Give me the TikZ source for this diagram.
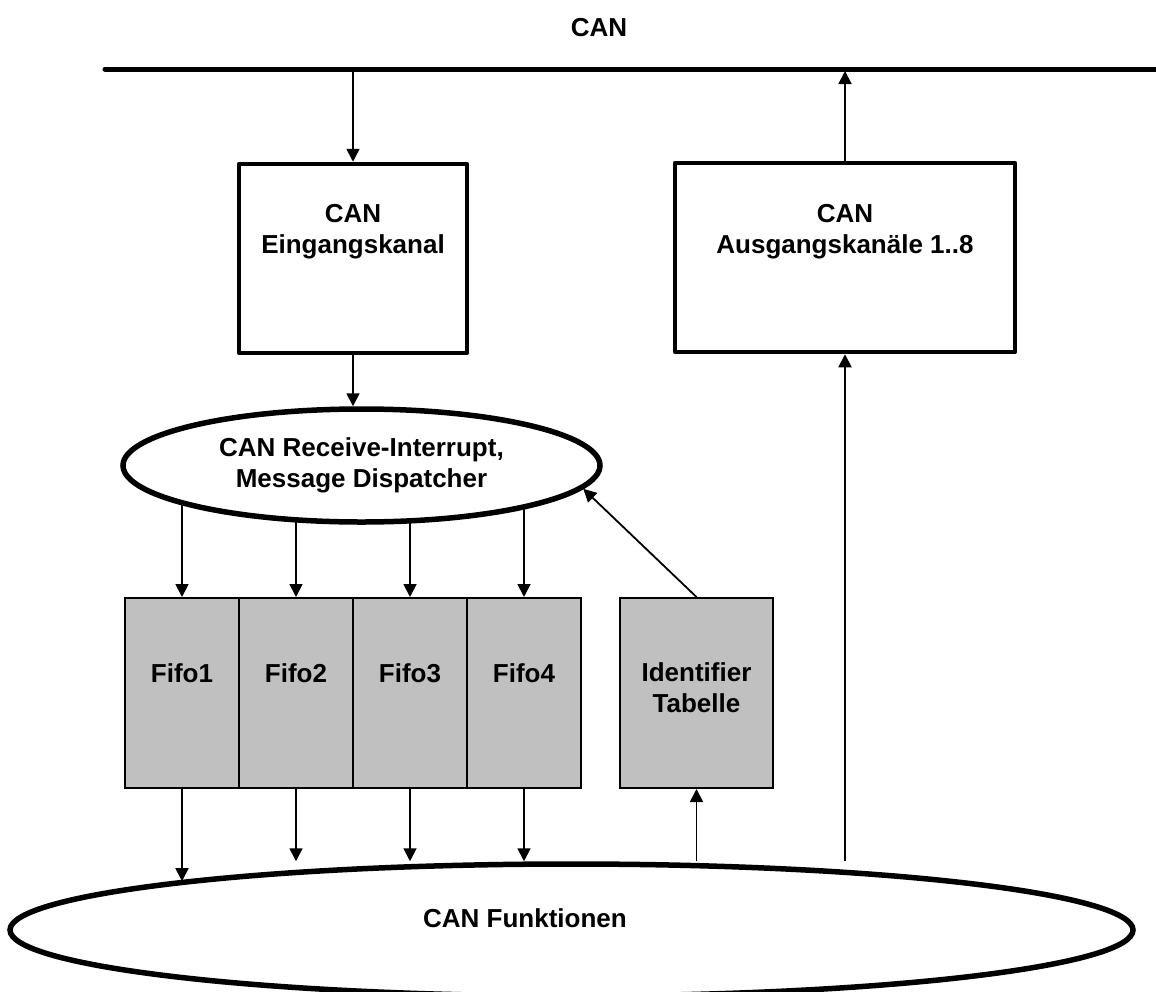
\documentclass[tikz,border=0pt]{standalone}
\usepackage{fontspec}
\setmainfont{Liberation Sans}
\usetikzlibrary{arrows.meta,shapes.geometric}
\definecolor{fifogray}{HTML}{C0C0C0}
\begin{document}
\begin{tikzpicture}[x=0.5pt,y=-0.5pt,
  every node/.style={font=\bfseries\fontsize{13}{15.5}\selectfont, align=center, inner sep=0pt},
  chanbox/.style={draw, line width=2.25pt, line join=round, minimum width=114pt, minimum height=94.5pt},
  fifobox/.style={draw, line width=1pt, fill=fifogray, minimum width=57pt, minimum height=95pt},
  oval/.style={ellipse, draw, line width=2.75pt, fill=white},
  arr/.style={-{Triangle[length=6.5pt,width=6.5pt]}, line width=0.9pt},
  plain/.style={line width=0.9pt}]
\useasboundingbox (0,0) rectangle (1156,991);

% bus
\coordinate (busL) at (105,69);
\coordinate (busR) at (1160,69);
\coordinate (busE) at (353,69);
\coordinate (busA) at (845,71);
\draw[line width=2.5pt, line cap=round] (busL) -- (busR);
\node (cantitle) at (599,27.5) {CAN};

% channel boxes
\node[chanbox] (ein) at (353,258.5) {};
\node (eintxt) at (353,232) {CAN\\Eingangskanal};
\node[chanbox, minimum width=170pt] (aus) at (845,257.5) {};
\node (austxt) at (845,231.5) {CAN\\Ausgangskan\"ale 1..8};

% dispatcher
\node[oval, minimum width=238.5pt, minimum height=56.5pt] (recv) at (361.5,465.5)
  {CAN Receive-Interrupt,\\Message Dispatcher};

% fifos
\node[fifobox] (f1) at (182,693) {};
\node[fifobox] (f2) at (296,693) {};
\node[fifobox] (f3) at (410,693) {};
\node[fifobox] (f4) at (524,693) {};
\node (t1) at (182,673) {Fifo1};
\node (t2) at (296,673) {Fifo2};
\node (t3) at (410,673) {Fifo3};
\node (t4) at (524,673) {Fifo4};
\node[fifobox, minimum width=76.5pt] (ident) at (696.5,693) {};
\node (identtxt) at (696.5,687.5) {Identifier\\Tabelle};

% functions
\node[oval, minimum width=561.5pt, minimum height=66pt] (funk) at (571.5,930) {};
\node (funktxt) at (525,918) {CAN Funktionen};

% connectors
\draw[arr] (busE) -- (ein.north);
\draw[arr] (aus.north) -- (busA);
\draw[arr] (ein.south) -- (ein.south |- recv.north);
\draw[arr] (f1.north |- recv.191.7) -- (f1.north);
\draw[arr] (f2.north |- recv.219.7) -- (f2.north);
\draw[arr] (f3.north |- recv.311.5) -- (f3.north);
\draw[arr] (f4.north |- recv.345.9) -- (f4.north);
\draw[arr] (ident.north) -- (recv.-6);
\draw[arr] (f1.south) -- (f1.south |- funk.173);
\draw[arr] (f2.south) -- (f2.south |- funk.north);
\draw[arr] (f3.south) -- (f3.south |- funk.north);
\draw[arr] (f4.south) -- (f4.south |- funk.north);
\draw[arr] (ident.south |- funk.north) -- (ident.south);
\draw[arr] (aus.south |- funk.north) -- (aus.south);
\end{tikzpicture}
\end{document}
